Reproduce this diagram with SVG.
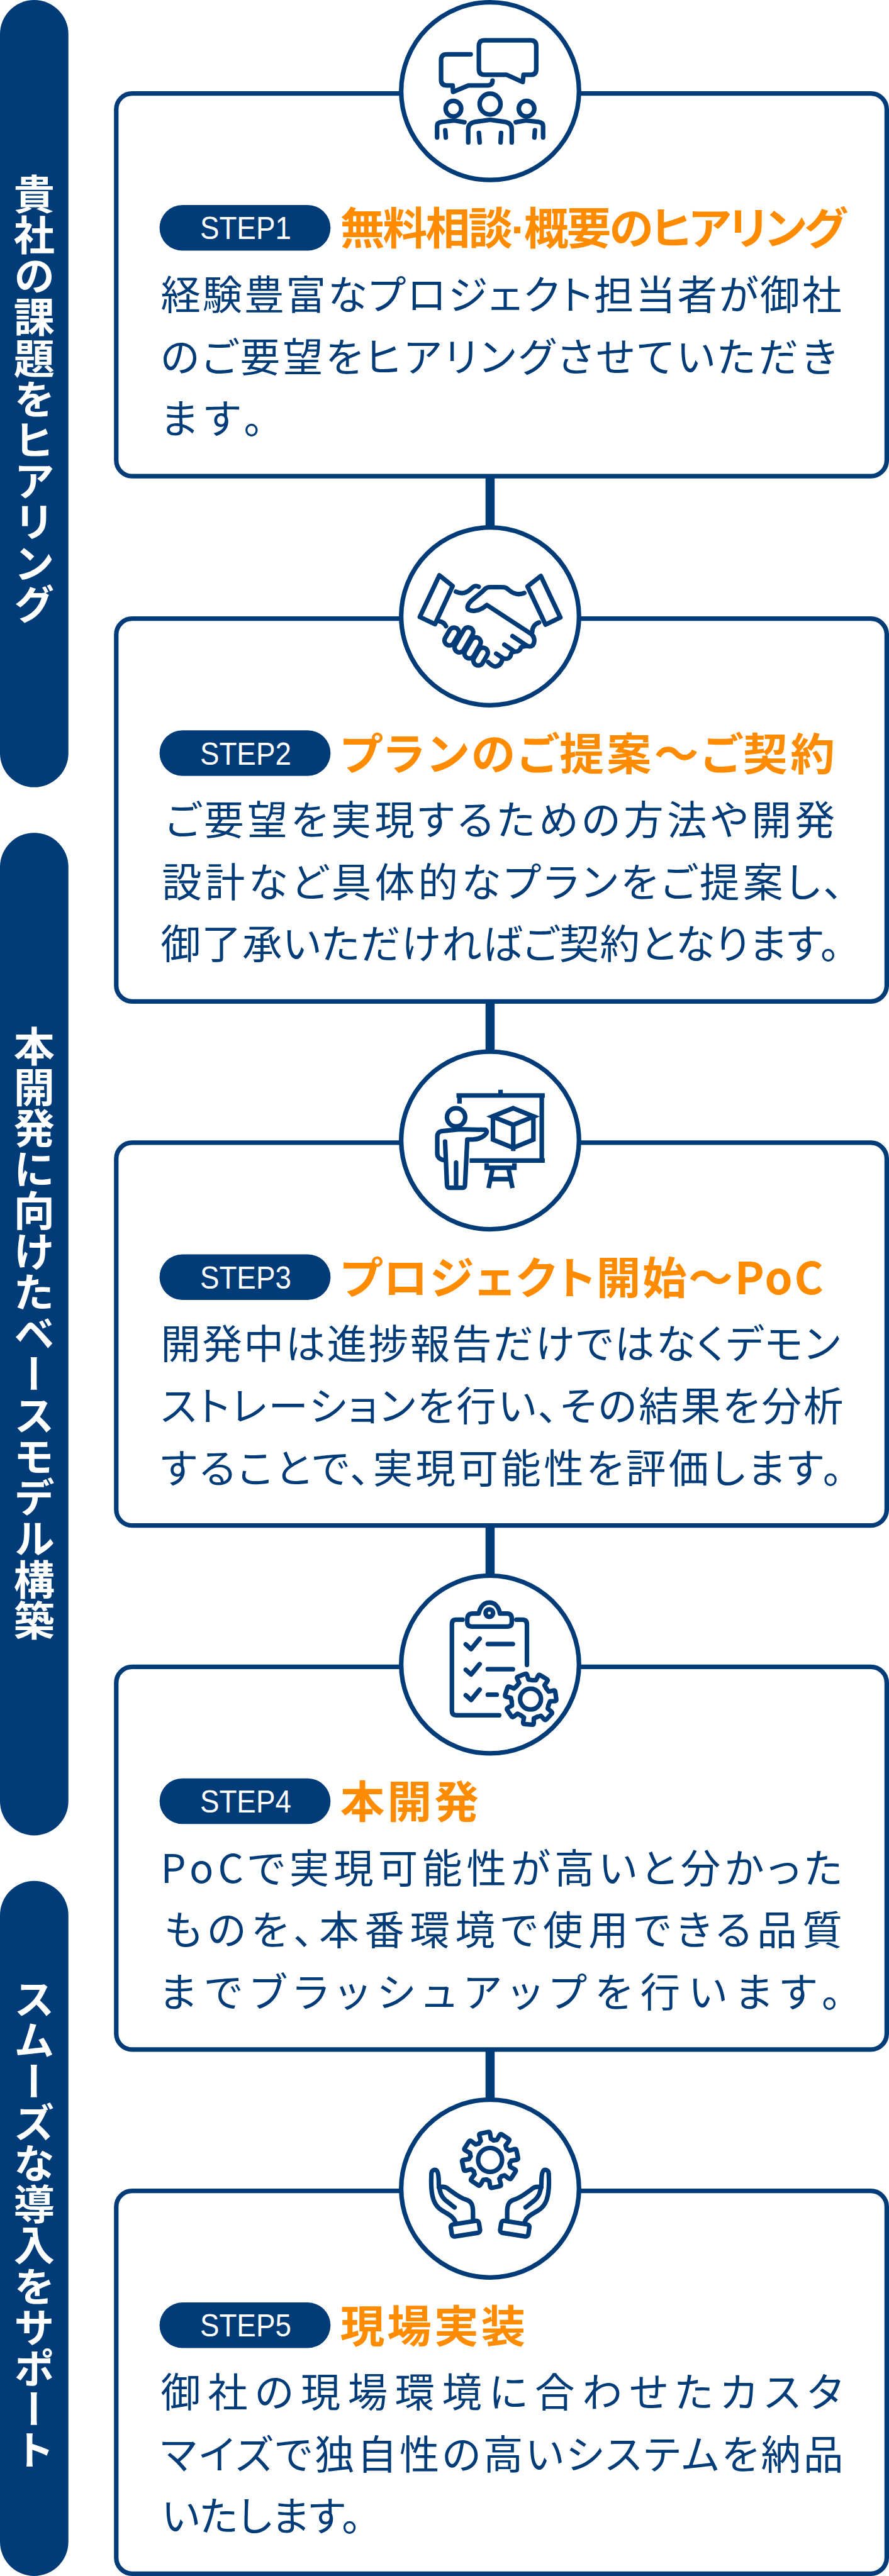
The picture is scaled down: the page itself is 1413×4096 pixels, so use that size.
<svg xmlns="http://www.w3.org/2000/svg" xmlns:xlink="http://www.w3.org/1999/xlink" width="1413" height="4096" viewBox="0 0 1413 4096">
<style>
.bar{fill:#013c78}
.side{font-family:"Noto Sans CJK JP","Noto Sans CJK SC",sans-serif;font-weight:700;font-size:72px;fill:#fff;writing-mode:vertical-rl;text-anchor:middle}
.card{fill:#fff;stroke:#013c78;stroke-width:8}
.ring{fill:#fff;stroke:#013c78;stroke-width:8}
.pill{fill:#013c78}
.stp{font-family:"Liberation Sans",Arial,sans-serif;font-size:55px;fill:#fff}
.ttl{font-family:"Noto Sans CJK JP","Noto Sans CJK SC",sans-serif;font-weight:700;font-size:78px;fill:#ff8c00;font-feature-settings:"palt"}
.dot{font-family:"Liberation Sans",sans-serif}
.txt{font-family:"Noto Sans CJK JP","Noto Sans CJK SC",sans-serif;font-weight:400;font-size:70px;fill:#013c78;font-feature-settings:"palt"}
.ic{fill:none;stroke:#013c78;stroke-width:24;stroke-linecap:round;stroke-linejoin:round}
.icb{fill:none;stroke:#013c78;stroke-width:24;stroke-linecap:butt;stroke-linejoin:miter}
</style>
<defs>
<path id="t7" d="M-43.4 -90.1L-26 -100L-28 -125Q-28 -134 -19 -134H19Q28 -134 28 -125L26 -100L43.4 -90.1"/>
<path id="t8" d="M-40.2 -97L-27 -108L-29 -136Q-29 -146 -20 -146H20Q29 -146 29 -136L27 -108L40.2 -97"/>
</defs>
<g transform="scale(0.90577)">
<g id="phase-1"><rect class="bar" x="0" y="0" width="120" height="1382" rx="60"/><text class="side" x="60" y="700">貴社の課題をヒアリング</text></g>
<g id="phase-2"><rect class="bar" x="0" y="1462" width="120" height="1760" rx="60"/><text class="side" x="60" y="2340">本開発に向けたベースモデル構築</text></g>
<g id="phase-3"><rect class="bar" x="0" y="3302" width="120" height="1220" rx="60"/><text class="side" x="60" y="3905">スムーズな導入をサポート</text></g>
<g id="connectors" fill="#013c78">
<rect x="852" y="836" width="16" height="90"/>
<rect x="852" y="1758" width="16" height="88"/>
<rect x="852" y="2678" width="16" height="88"/>
<rect x="852" y="3598" width="16" height="88"/>
</g>
<g id="step-1">
<rect class="card" x="204" y="164" width="1352" height="672" rx="28"/>
<circle class="ring" cx="860" cy="160" r="156"/>
<g transform="translate(660,0) scale(0.33333)" class="ic">
<path d="M570 212H813Q843 212 843 242V364Q843 394 813 394H776L772 432L688 394H570Q541 394 541 364V242Q541 212 570 212Z"/>
<path d="M498 286H372Q342 286 342 316V420Q342 450 372 450H403L405 484L486 450H585Q613 450 613 424"/>
<circle cx="600" cy="548" r="55"/><circle cx="407" cy="572" r="41"/><circle cx="792" cy="572" r="41"/>
<path d="M485 750V680Q485 650 520 642L590 632Q600 630 610 632L680 642Q714 650 714 680V750"/>
<path d="M541 700L545 750M658 700L655 750"/>
<path d="M321 724V665Q321 645 345 642L400 636Q410 634 420 636L465 644M364 686L367 724"/>
<path d="M879 724V665Q879 645 855 642L800 636Q790 634 780 636L735 644M836 686L833 724"/>
</g>
<rect class="pill" x="280" y="360" width="300" height="80" rx="40"/>
<text class="stp" x="351" y="420" textLength="160" lengthAdjust="spacingAndGlyphs">STEP1</text>
<text class="ttl" x="597" y="430" textLength="888">無料相談<tspan class="dot">·</tspan>概要のヒアリング</text>
<text class="txt" x="282" y="543" textLength="1195">経験豊富なプロジェクト担当者が御社</text>
<text class="txt" x="282" y="652" textLength="1186">のご要望をヒアリングさせていただき</text>
<text class="txt" x="282" y="761" textLength="180">ます。</text>
</g>
<g id="step-2">
<rect class="card" x="204" y="1086" width="1352" height="672" rx="28"/>
<circle class="ring" cx="860" cy="1082" r="156"/>
<g transform="translate(660,910) scale(0.33333)" class="ic">
<path d="M333 300L403 356L310 557L230 519Z"/><path d="M867 303L797 358L892 560L970 522Z"/>
<path d="M420 386C460 405 485 385 500 370C515 355 525 352 540 360"/>
<path d="M780 393C750 405 725 400 700 378C680 360 670 362 650 362H600C580 362 572 372 560 385L500 435C485 450 475 465 485 480C510 495 550 485 583 456L815 608C835 622 838 650 825 668C815 678 800 675 790 668L718 620"/>
<path d="M793 672Q765 675 762 680Q758 702 730 702L675 665M730 702Q712 705 710 715Q705 745 670 738L632 712M665 738Q660 775 630 780Q615 782 590 757"/>
<path d="M333 542C350 545 362 555 368 568M858 548C835 555 822 575 822 598"/>
<rect x="-26" y="-50" width="52" height="100" rx="26" transform="translate(398,622) rotate(30)"/>
<rect x="-26" y="-72" width="52" height="144" rx="26" transform="translate(462,640) rotate(30)"/>
<rect x="-26" y="-60" width="52" height="120" rx="26" transform="translate(508,682) rotate(30)"/>
<rect x="-26" y="-50" width="52" height="100" rx="26" transform="translate(550,728) rotate(30)"/>
</g>
<rect class="pill" x="280" y="1282" width="300" height="80" rx="40"/>
<text class="stp" x="351" y="1342" textLength="160" lengthAdjust="spacingAndGlyphs">STEP2</text>
<text class="ttl" x="597" y="1352" textLength="868">プランのご提案〜ご契約</text>
<text class="txt" x="290" y="1465" textLength="1175">ご要望を実現するための方法や開発</text>
<text class="txt" x="284" y="1574" textLength="1196">設計など具体的なプランをご提案し、</text>
<text class="txt" x="282" y="1683" textLength="1192">御了承いただければご契約となります。</text>
</g>
<g id="step-3">
<rect class="card" x="204" y="2006" width="1352" height="672" rx="28"/>
<circle class="ring" cx="860" cy="2002" r="156"/>
<g transform="translate(660,1830) scale(0.33333)">
<path class="icb" d="M423 279H888M643 261H667M439 291V322M872 291V610M492 622H888M582 636V660H728V636M612 670L592 767M698 670L718 767M605 720H705"/>
<path class="icb" d="M722 346L830 390L722 434L612 390ZM615 390V512L722 555L828 512V390M722 434V572"/>
<circle class="icb" cx="421" cy="394" r="48"/>
<path class="ic" d="M575 460L440 457L345 467Q322 472 322 495V585Q322 612 357 620M575 460Q590 470 575 485Q550 510 510 511H480L468 750Q467 765 455 765H385Q374 765 373 750L363 522M421 633V765"/>
</g>
<rect class="pill" x="280" y="2202" width="300" height="80" rx="40"/>
<text class="stp" x="351" y="2262" textLength="160" lengthAdjust="spacingAndGlyphs">STEP3</text>
<text class="ttl" x="597" y="2272" textLength="848">プロジェクト開始〜PoC</text>
<text class="txt" x="282" y="2385" textLength="1192">開発中は進捗報告だけではなくデモン</text>
<text class="txt" x="282" y="2494" textLength="1198">ストレーションを行い、その結果を分析</text>
<text class="txt" x="282" y="2603" textLength="1196">することで、実現可能性を評価します。</text>
</g>
<g id="step-4">
<rect class="card" x="204" y="2926" width="1352" height="672" rx="28"/>
<circle class="ring" cx="860" cy="2922" r="156"/>
<g transform="translate(660,2750) scale(0.33333)" class="ic">
<path d="M455 280H420Q399 280 399 305V760Q399 783 420 783H648M738 280H770Q794 280 794 305V518"/>
<path d="M540 248H510Q480 248 480 278V295Q480 316 505 316H690Q714 316 714 295V275Q714 248 690 248H652C645 210 625 190 596 190C565 190 548 215 540 248Z"/>
<circle cx="596" cy="245" r="20"/>
<path d="M472 410L500 435L545 380M472 544L500 569L545 514M472 678L500 703L545 648"/>
<path d="M588 408H720M588 541H720M588 675H635"/>
<circle cx="813" cy="698" r="55"/>
<g transform="translate(813,698)">
<use xlink:href="#t7" href="#t7" transform="rotate(-20.7)"/><use xlink:href="#t7" href="#t7" transform="rotate(30.7)"/><use xlink:href="#t7" href="#t7" transform="rotate(82.1)"/><use xlink:href="#t7" href="#t7" transform="rotate(133.6)"/><use xlink:href="#t7" href="#t7" transform="rotate(185)"/><use xlink:href="#t7" href="#t7" transform="rotate(236.4)"/><use xlink:href="#t7" href="#t7" transform="rotate(287.9)"/>
</g>
</g>
<rect class="pill" x="280" y="3122" width="300" height="80" rx="40"/>
<text class="stp" x="351" y="3182" textLength="160" lengthAdjust="spacingAndGlyphs">STEP4</text>
<text class="ttl" x="597" y="3192" textLength="243">本開発</text>
<text class="txt" x="282" y="3305" textLength="1196">PoCで実現可能性が高いと分かった</text>
<text class="txt" x="288" y="3414" textLength="1190">ものを、本番環境で使用できる品質</text>
<text class="txt" x="280" y="3523" textLength="1196">までブラッシュアップを行います。</text>
</g>
<g id="step-5">
<rect class="card" x="204" y="3846" width="1352" height="672" rx="28"/>
<circle class="ring" cx="860" cy="3842" r="156"/>
<g transform="translate(660,3670) scale(0.33333)" class="ic">
<circle cx="600" cy="365" r="63"/>
<g transform="translate(600,365)">
<use xlink:href="#t8" href="#t8" transform="rotate(-12)"/><use xlink:href="#t8" href="#t8" transform="rotate(33)"/><use xlink:href="#t8" href="#t8" transform="rotate(78)"/><use xlink:href="#t8" href="#t8" transform="rotate(123)"/><use xlink:href="#t8" href="#t8" transform="rotate(168)"/><use xlink:href="#t8" href="#t8" transform="rotate(213)"/><use xlink:href="#t8" href="#t8" transform="rotate(258)"/><use xlink:href="#t8" href="#t8" transform="rotate(303)"/>
</g>
<g>
<path d="M417 690C405 660 375 650 345 630C305 605 290 560 290 480L291 440C291 420 305 415 315 418C328 425 330 460 330 495C335 530 340 560 375 585C395 600 405 610 413 615"/>
<path d="M330 510C345 505 365 505 380 518C410 540 440 565 475 575C500 582 510 600 510 640V680"/>
<rect x="-75" y="-32" width="150" height="64" rx="14" transform="translate(470,727) rotate(-9)"/>
</g>
<g transform="translate(1200,0) scale(-1,1)">
<path d="M417 690C405 660 375 650 345 630C305 605 290 560 290 480L291 440C291 420 305 415 315 418C328 425 330 460 330 495C335 530 340 560 375 585C395 600 405 610 413 615"/>
<path d="M330 510C345 505 365 505 380 518C410 540 440 565 475 575C500 582 510 600 510 640V680"/>
<rect x="-75" y="-32" width="150" height="64" rx="14" transform="translate(470,727) rotate(-9)"/>
</g>
</g>
<rect class="pill" x="280" y="4042" width="300" height="80" rx="40"/>
<text class="stp" x="351" y="4102" textLength="160" lengthAdjust="spacingAndGlyphs">STEP5</text>
<text class="ttl" x="597" y="4112" textLength="325">現場実装</text>
<text class="txt" x="282" y="4225" textLength="1196">御社の現場環境に合わせたカスタ</text>
<text class="txt" x="282" y="4334" textLength="1198">マイズで独自性の高いシステムを納品</text>
<text class="txt" x="284" y="4443" textLength="350">いたします。</text>
</g>
</g>
</svg>
